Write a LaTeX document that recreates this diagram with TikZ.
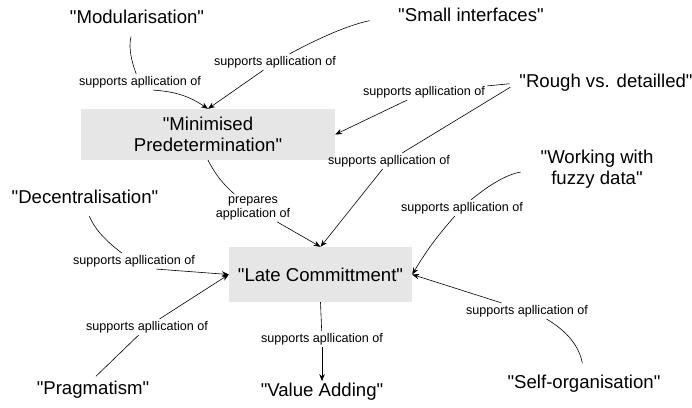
\documentclass[tikz,border=0pt]{standalone}
\usepackage{fontspec}
\setmainfont{Liberation Sans}[Ligatures=TeXOff]
\usetikzlibrary{arrows.meta}

\definecolor{boxgray}{RGB}{230,230,230}

\begin{document}
\begin{tikzpicture}[
			x = 1pt, y = 1pt,
			>={Stealth[length=7pt,width=5.5pt]},
			link/.style = {line width=0.6pt},
			concept/.style = {font=\fontsize{18.6}{21}\selectfont, align=center, inner sep=2pt},
			mainbox/.style = {concept, fill=boxgray, inner sep=0pt},
			rel/.style = {font=\fontsize{12.6}{14}\selectfont, align=center, inner sep=2pt}
			]

			\useasboundingbox (0,0) rectangle (692,-407);

			\node[mainbox, minimum width=254, minimum height=51] (minp) at (208,-134.5) {"Minimised\\Predetermination"};
			\node[mainbox, minimum width=183, minimum height=55] (late) at (320.5,-274.5) {"Late Committment"};

			\node[concept] (mod) at (137,-17) {"Modularisation"};
			\node[concept] (small) at (471,-15) {"Small interfaces"};
			\node[concept] (rough) at (606,-83) {"Rough vs. detailled"};
			\node[concept] (fuzzy) at (597,-169) {"Working with\\fuzzy data"};
			\node[concept] (dec) at (85,-197) {"Decentralisation"};
			\node[concept] (prag) at (93,-390) {"Pragmatism"};
			\node[concept] (value) at (322,-392) {"Value Adding"};
			\node[concept] (self) at (584,-384) {"Self-organisation"};

			\node[rel] (l1) at (140,-82) {supports apllication of};
			\node[rel] (l2) at (275,-62) {supports apllication of};
			\node[rel] (l3) at (424,-92) {supports apllication of};
			\node[rel] (l4) at (389,-161) {supports apllication of};
			\node[rel] (l5) at (462,-208) {supports apllication of};
			\node[rel] (l6) at (527,-311) {supports apllication of};
			\node[rel] (l7) at (322,-339) {supports apllication of};
			\node[rel] (l8) at (134,-261) {supports apllication of};
			\node[rel] (l9) at (147,-327) {supports apllication of};
			\node[rel] (l10) at (253,-208) {prepares\\application of};

			\draw[link, shorten <=11pt] (mod) to[bend right=18] (l1.115);
			\draw[link,->] (l1.-32) to[bend left=15] (minp.north);

			\draw[link, shorten <=27pt] (small.west) to[bend right=8] (l2);
			\draw[link,->] (l2) -- (minp.north);

			\draw[link, shorten <=8pt] (rough.west) -- (l3);
			\draw[link,->] (l3) -- (minp.east);

			\draw[link, shorten <=8pt] (rough.west) -- (l4);
			\draw[link,->] (l4) -- (late.north);

			\draw[link] (minp.south) to[bend right=10] (l10);
			\draw[link,->] (l10) -- (late.north);

			\draw[link, shorten <=18pt] (fuzzy.west) to[bend right=15] (l5);
			\draw[link,->] (l5) to[bend right=5] (late.east);

			\draw[link, shorten <=10pt] (self.north) to[bend right=25] (l6);
			\draw[link,->] (l6) -- (late.east);

			\draw[link] (late.south) -- (l7);
			\draw[link,->] (l7) -- (value.north);

			\draw[link, shorten <=11pt] (dec.south) to[bend right=15] (l8);
			\draw[link,->] (l8.-20) -- (late.west);

			\draw[link, shorten <=4pt] (prag.north) -- (l9);
			\draw[link,->] (l9) -- (late.west);

		\end{tikzpicture}
\end{document}
